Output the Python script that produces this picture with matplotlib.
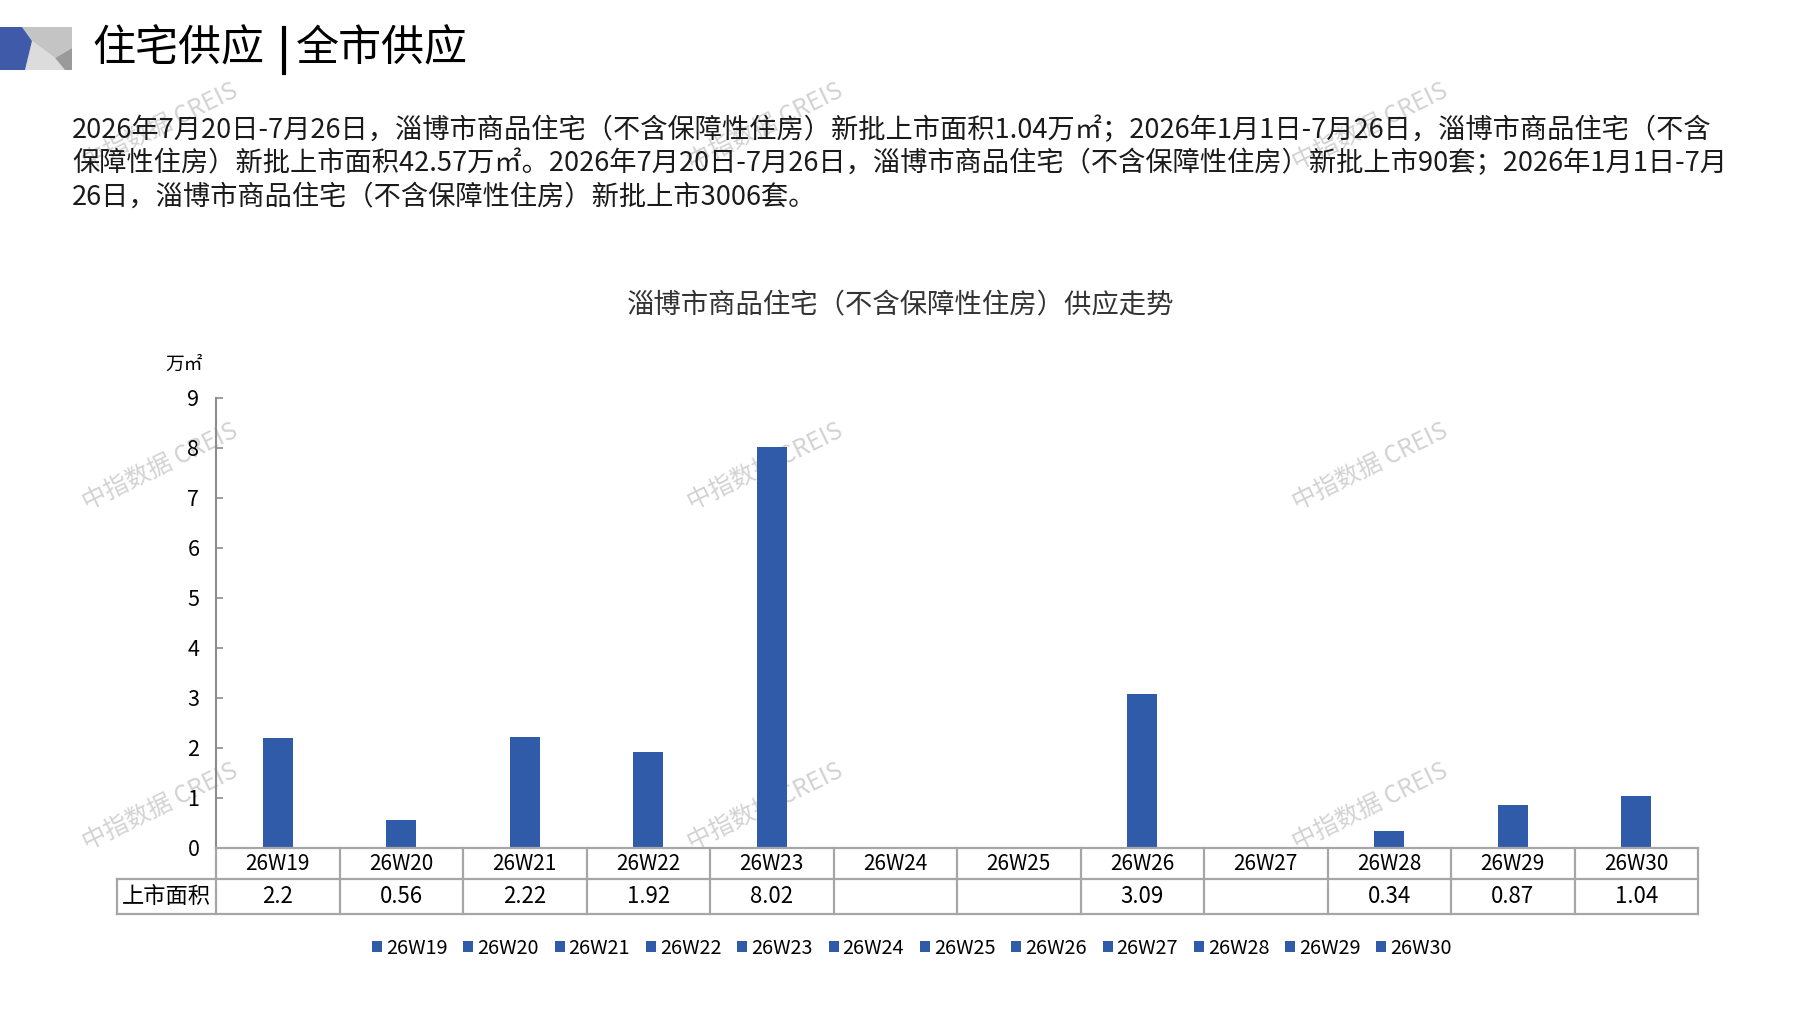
import numpy as np
import matplotlib.pyplot as plt
from matplotlib.patches import Polygon

plt.rcParams['font.family'] = ['Noto Sans CJK SC', 'DejaVu Sans']

# ---- data ----
weeks = ['26W19', '26W20', '26W21', '26W22', '26W23', '26W24',
         '26W25', '26W26', '26W27', '26W28', '26W29', '26W30']
area = [2.2, 0.56, 2.22, 1.92, 8.02, np.nan, np.nan, 3.09, np.nan, 0.34, 0.87, 1.04]
area_text = ['2.2', '0.56', '2.22', '1.92', '8.02', '', '', '3.09', '', '0.34', '0.87', '1.04']
row_name = '上市面积'
y_ticks = list(range(0, 10))
unit = '万㎡'

page_title_a = '住宅供应'
page_title_b = '全市供应'
chart_title = '淄博市商品住宅（不含保障性住房）供应走势'
paragraph = [
    '2026年7月20日-7月26日，淄博市商品住宅（不含保障性住房）新批上市面积1.04万㎡；2026年1月1日-7月26日，淄博市商品住宅（不含',
    '保障性住房）新批上市面积42.57万㎡。2026年7月20日-7月26日，淄博市商品住宅（不含保障性住房）新批上市90套；2026年1月1日-7月',
    '26日，淄博市商品住宅（不含保障性住房）新批上市3006套。',
]
watermark = '中指数据 CREIS'

W, H = 1797, 1010
BLUE = '#2f5ba8'
GRID = '#a6a6a6'


def fx(px):
    return px / W


def fy(py):
    return 1 - py / H


fig = plt.figure(figsize=(W / 100, H / 100), dpi=100)

# watermark (behind everything)
for wx in [160, 765, 1370]:
    for wy in [127, 467, 807]:
        fig.text(fx(wx), fy(wy), watermark, rotation=26, color='#b5b5b5', alpha=0.6,
                 fontsize=17.5, ha='center', va='center', zorder=-5)

# logo
logo = [
    ([(22, 27), (72, 27), (72, 48), (55, 58), (32, 41)], '#c4c4c4'),
    ([(32, 41), (55, 58), (65, 70), (25, 70)], '#dcdcdc'),
    ([(55, 58), (72, 48), (72, 70), (65, 70)], '#9a9a9a'),
    ([(0, 27), (22, 27), (32, 41), (25, 70), (0, 70)], '#3f5aa8'),
]
for pts, c in logo:
    fig.patches.append(Polygon([(fx(a), fy(b)) for a, b in pts], closed=True,
                               transform=fig.transFigure, facecolor=c, edgecolor='none'))

fig.text(fx(92), fy(50), page_title_a, fontsize=31, va='center', ha='left')
fig.text(fx(296), fy(50), page_title_b, fontsize=31, va='center', ha='left')
fig.add_artist(plt.Line2D([fx(284), fx(284)], [fy(28), fy(73)], color='black', lw=3,
                          transform=fig.transFigure))

for i, line in enumerate(paragraph):
    fig.text(fx(72), fy(130 + i * 33.5), line, fontsize=19.6, va='center', ha='left',
             color='#1a1a1a')

fig.text(fx(901), fy(306), chart_title, fontsize=19.7, ha='center', va='center', color='#333333')
fig.text(fx(184), fy(364), unit, fontsize=13.5, ha='center', va='center')

# chart
left, right, top, bottom = 216, 1698, 398, 848
ax = fig.add_axes([fx(left), fy(bottom), (right - left) / W, (bottom - top) / H])
ax.set_facecolor('none')
for i, (w, v) in enumerate(zip(weeks, area)):
    ax.bar(i, 0 if np.isnan(v) else v, width=0.245, color=BLUE, label=w, zorder=2)

ax.set_xlim(-0.5, len(weeks) - 0.5)
ax.set_ylim(0, 9)
ax.set_yticks(y_ticks)
ax.set_xticks([])
for s in ['top', 'right', 'bottom']:
    ax.spines[s].set_visible(False)
ax.spines['left'].set_color('#8c8c8c')
ax.spines['left'].set_linewidth(1.5)
ax.tick_params(axis='y', direction='in', length=5, width=1.2, color='#8c8c8c',
               labelsize=15.5, pad=12)

# data table under the axis
tr = ax.get_xaxis_transform()
ah = bottom - top
h1 = 31 / ah
h2 = 66 / ah
x_left = -0.5 - (left - 117) / ((right - left) / len(weeks))
kw = dict(color=GRID, lw=1.6, transform=tr, clip_on=False, zorder=3)
ax.plot([-0.5, len(weeks) - 0.5], [0, 0], **kw)
ax.plot([x_left, len(weeks) - 0.5], [-h1, -h1], **kw)
ax.plot([x_left, len(weeks) - 0.5], [-h2, -h2], **kw)
for b in np.arange(len(weeks) + 1) - 0.5:
    ax.plot([b, b], [0, -h2], **kw)
ax.plot([x_left, x_left], [-h1, -h2], **kw)

for i, w in enumerate(weeks):
    ax.text(i, -h1 / 2, w, transform=tr, ha='center', va='center', fontsize=15)
    ax.text(i, -(h1 + h2) / 2, area_text[i], transform=tr, ha='center', va='center',
            fontsize=16)
ax.text((x_left - 0.5) / 2, -(h1 + h2) / 2, row_name, transform=tr, ha='center',
        va='center', fontsize=16)

handles, labels = ax.get_legend_handles_labels()
fig.legend(handles, labels, loc='center', bbox_to_anchor=(fx(912), fy(948)), ncol=len(weeks),
           frameon=False, handlelength=0.5, handleheight=0.5, handletextpad=0.2,
           columnspacing=0.8, prop={'size': 14.3})

fig.savefig('out.png', dpi=100)
